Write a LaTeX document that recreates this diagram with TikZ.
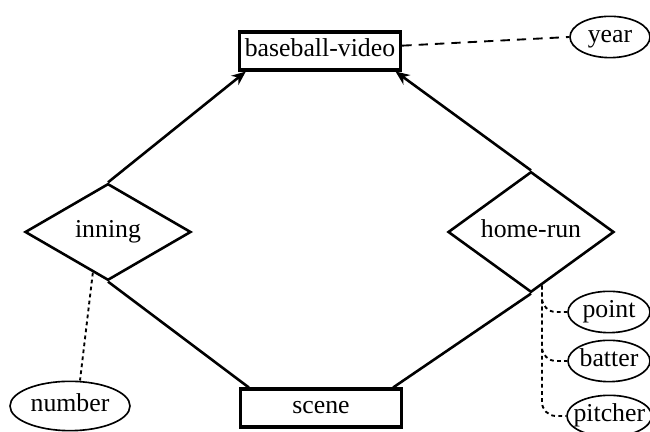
\documentclass[tikz,border=0pt]{standalone}
\usepackage{fontspec}
\setmainfont{Liberation Serif}
\usepackage{tikz}
\usetikzlibrary{shapes.geometric, arrows.meta, positioning, calc}

\begin{document}
\begin{tikzpicture}[
  entity/.style={draw, line width=1.3pt, minimum width=2.42cm, minimum height=0.57cm,
               inner sep=0pt, text height=1.5ex, text depth=0.4ex, font=\fontsize{11}{13}\selectfont},
  rel/.style={draw, diamond, line width=1.1pt, minimum width=2.49cm, minimum height=1.45cm,
               inner sep=0pt, text height=1.5ex, text depth=0.4ex, font=\fontsize{11}{13}\selectfont},
  attr/.style={draw, ellipse, line width=0.7pt, inner xsep=-3pt, inner ysep=0pt,
               text height=1.5ex, text depth=0.4ex,
               minimum height=0.62cm, font=\fontsize{11}{13}\selectfont},
  arr/.style={-{Stealth[length=6pt,width=5pt]}, line width=1.1pt},
  link/.style={line width=1.1pt},
  dots/.style={line width=0.8pt, dash pattern=on 1.6pt off 1.4pt},
]
  \useasboundingbox (0, 0) rectangle (9.75, -6.48);

  \node[entity] (video) at (4.80, -0.765) {baseball-video};
  \node[entity] (scene) at (4.815, -6.12) {scene};
  \node[rel] (inning) at (1.62, -3.48) {inning};
  \node[rel] (homerun) at (7.965, -3.48) {home-run};

  \node[attr, minimum width=1.2cm] (year) at (9.15, -0.555) {year};
  \node[attr, minimum width=1.8cm, minimum height=0.74cm] (number) at (1.05, -6.09) {number};
  \node[attr, minimum width=1.23cm] (point) at (9.135, -4.68) {point};
  \node[attr, minimum width=1.23cm] (batter) at (9.135, -5.415) {batter};
  \node[attr, minimum width=1.27cm] (pitcher) at (9.14, -6.24) {pitcher};

  \draw[arr] (inning.north) -- ([xshift=0.12cm]video.south west);
  \draw[arr] (homerun.north) -- ([xshift=-0.1cm]video.south east);
  \draw[link] (inning.south) -- ([xshift=0.15cm]scene.north west);
  \draw[link] (homerun.south) -- ([xshift=-0.15cm]scene.north east);

  % Attribute links
  \draw[line width=0.8pt, dash pattern=on 4pt off 3pt] ([yshift=0.08cm]video.east) -- (year.west);
  \coordinate (infoot) at ($(inning.south)!0.18!(inning.west)$);
  \draw[dots] (infoot) -- ([xshift=0.15cm]number.north);
  \coordinate (hrfoot) at ($(homerun.south)!0.13!(homerun.east)$);
  \foreach \a in {point, batter, pitcher} {
    \draw[dots, rounded corners=6pt] (hrfoot) |- (\a.west);
  }
\end{tikzpicture}
\end{document}
